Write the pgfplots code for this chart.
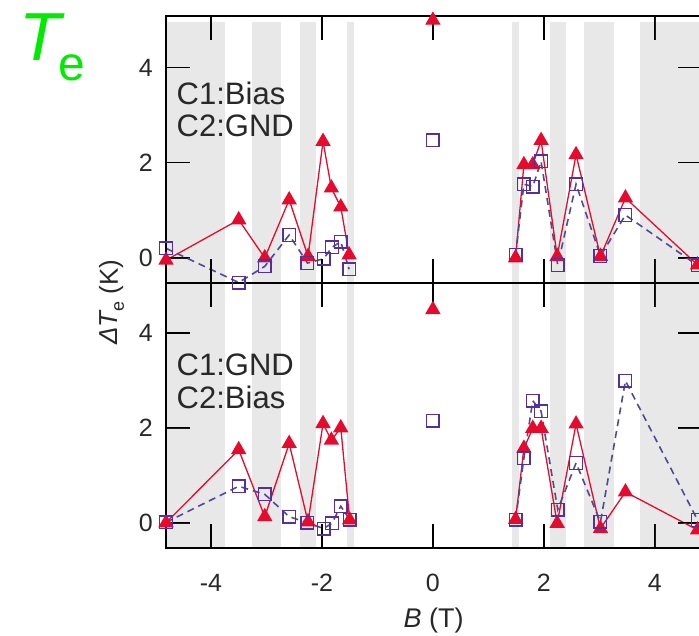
\documentclass[border=0pt]{standalone}
\usepackage{fontspec}
\setmainfont{Liberation Sans}
\usepackage{pgfplots}
\pgfplotsset{compat=1.18}

\definecolor{bandgray}{RGB}{232,232,232}
\definecolor{tri}{RGB}{230,10,45}
\definecolor{sq}{RGB}{82,48,160}
\definecolor{dashc}{RGB}{78,74,150}
\definecolor{txt}{RGB}{40,40,40}
\definecolor{lime}{RGB}{0,235,0}

% shaded field windows, drawn behind the data
\newcommand\bands[1]{%
  \addplot[band] coordinates {(-4.81,-0.53) (-3.74,-0.53) (-3.74,#1) (-4.81,#1)} -- cycle;
  \addplot[band] coordinates {(-3.26,-0.53) (-2.73,-0.53) (-2.73,#1) (-3.26,#1)} -- cycle;
  \addplot[band] coordinates {(-2.39,-0.53) (-2.11,-0.53) (-2.11,#1) (-2.39,#1)} -- cycle;
  \addplot[band] coordinates {(-1.55,-0.53) (-1.42,-0.53) (-1.42,#1) (-1.55,#1)} -- cycle;
  \addplot[band] coordinates {(1.42,-0.53) (1.55,-0.53) (1.55,#1) (1.42,#1)} -- cycle;
  \addplot[band] coordinates {(2.11,-0.53) (2.39,-0.53) (2.39,#1) (2.11,#1)} -- cycle;
  \addplot[band] coordinates {(2.73,-0.53) (3.26,-0.53) (3.26,#1) (2.73,#1)} -- cycle;
  \addplot[band] coordinates {(3.74,-0.53) (4.85,-0.53) (4.85,#1) (3.74,#1)} -- cycle;
}

% one tick as a thin filled strip: x from #1 to #2, y from #3 to #4
\newcommand\tickbox[4]{%
  \addplot[tickfill] coordinates {(#1,#3) (#2,#3) (#2,#4) (#1,#4)} -- cycle;
}
% long inward ticks on all four sides of a panel
% #1 = upper y limit, #2 = y value where the top ticks end
\newcommand\panelticks[2]{%
  \tickbox{-4.0126}{-3.9874}{-0.53}{-0.025}\tickbox{-4.0126}{-3.9874}{#1}{#2}%
  \tickbox{-2.0126}{-1.9874}{-0.53}{-0.025}\tickbox{-2.0126}{-1.9874}{#1}{#2}%
  \tickbox{-0.0126}{0.0126}{-0.53}{-0.025}\tickbox{-0.0126}{0.0126}{#1}{#2}%
  \tickbox{1.9874}{2.0126}{-0.53}{-0.025}\tickbox{1.9874}{2.0126}{#1}{#2}%
  \tickbox{3.9874}{4.0126}{-0.53}{-0.025}\tickbox{3.9874}{4.0126}{#1}{#2}%
  \tickbox{-4.81}{-4.378}{-0.0147}{0.0147}\tickbox{4.418}{4.85}{-0.0147}{0.0147}%
  \tickbox{-4.81}{-4.378}{1.9853}{2.0147}\tickbox{4.418}{4.85}{1.9853}{2.0147}%
  \tickbox{-4.81}{-4.378}{3.9853}{4.0147}\tickbox{4.418}{4.85}{3.9853}{4.0147}%
}

\tikzset{note/.style={anchor=base west, inner sep=0pt, text=txt, font=\fontsize{31}{31}\selectfont}}

\pgfplotsset{
  panel/.style={
    scale only axis, width=536pt,
    xmin=-4.81, xmax=4.85, ymin=-0.53,
    xtick={-4,-2,0,2,4}, ytick={0,2,4},
    xticklabels={-4,-2,0,2,4}, yticklabels={0,2,4},
    xtick pos=both, ytick pos=both,
    tick align=inside, major tick length=24pt,
    major tick style={draw=black, line width=1.3pt},
    axis line style={line width=1.6pt, black},
    clip=false, axis on top,
    yticklabel style={font=\fontsize{25}{25}\selectfont, text=txt, inner sep=0pt, anchor=east, xshift=-13pt},
    xticklabel style={font=\fontsize{25}{25}\selectfont, text=txt, inner sep=0pt, anchor=north, yshift=-26pt},
  },
  band/.style={fill=bandgray, draw=none, forget plot},
  tickfill/.style={fill=black!90, draw=none, forget plot},
  redline/.style={color=tri, line width=1.3pt, mark=triangle*, mark size=7.6pt, mark options={solid}},
  sqline/.style={color=dashc, line width=1.6pt, dash pattern=on 7pt off 5pt,
    mark=square, mark size=6.3pt, mark options={solid, draw=sq, line width=1.4pt}},
}

\begin{document}
\begin{tikzpicture}

% lower panel: C1 grounded, C2 biased
\begin{axis}[panel, name=bot, at={(0,0)}, anchor=south west,
    height=265pt, ymax=5.05]
  \bands{5.05}
  \panelticks{5.05}{4.545}
  \addplot[redline] coordinates {(-4.81,0.0) (-3.5,1.54) (-3.03,0.13) (-2.59,1.67) (-2.25,0.02) (-1.98,2.09) (-1.83,1.74) (-1.66,2.0) (-1.5,0.06)};
  \addplot[redline] coordinates {(1.49,0.07) (1.64,1.57) (1.80,1.99) (1.95,1.99) (2.24,-0.01) (2.58,2.08) (3.02,-0.12) (3.47,0.65) (4.77,-0.15)};
  \addplot[redline, only marks] coordinates {(0,4.49)};
  \addplot[sqline] coordinates {(-4.81,0.01) (-3.5,0.77) (-3.03,0.6) (-2.59,0.13) (-2.26,0.0) (-1.97,-0.12) (-1.82,-0.01) (-1.66,0.35) (-1.5,0.07)};
  \addplot[sqline] coordinates {(1.49,0.07) (1.64,1.36) (1.80,2.57) (1.95,2.35) (2.25,0.28) (2.58,1.26) (3.02,0.02) (3.47,2.99) (4.77,0.06)};
  \addplot[sqline, only marks] coordinates {(0,2.15)};
  \node[note] at (axis cs:-4.62,3.11) {C1:GND};
  \node[note] at (axis cs:-4.62,2.41) {C2:Bias};
\end{axis}

% upper panel: C1 biased, C2 grounded
\begin{axis}[panel, name=top, at={(bot.north west)}, anchor=south west,
    height=267pt, ymax=5.09, xticklabels={}]
  \bands{4.97}
  \panelticks{5.09}{4.585}
  \addplot[redline] coordinates {(-4.81,-0.05) (-3.5,0.8) (-3.03,0.0) (-2.59,1.22) (-2.25,0.03) (-1.98,2.45) (-1.83,1.47) (-1.66,1.07) (-1.51,0.06)};
  \addplot[redline] coordinates {(1.49,0.0) (1.64,1.96) (1.80,1.96) (1.95,2.47) (2.24,0.03) (2.58,2.17) (3.02,0.03) (3.47,1.26) (4.77,-0.15)};
  \addplot[redline, only marks] coordinates {(0,5.0)};
  \addplot[sqline] coordinates {(-4.81,0.2) (-3.5,-0.52) (-3.03,-0.18) (-2.59,0.48) (-2.26,-0.11) (-1.97,-0.02) (-1.82,0.22) (-1.66,0.34) (-1.51,-0.24)};
  \addplot[sqline] coordinates {(1.49,0.06) (1.64,1.55) (1.80,1.50) (1.95,2.03) (2.25,-0.15) (2.58,1.55) (3.02,0.04) (3.47,0.9) (4.77,-0.16)};
  \addplot[sqline, only marks] coordinates {(0,2.47)};
  \node[note] at (axis cs:-4.62,3.22) {C1:Bias};
  \node[note] at (axis cs:-4.62,2.55) {C2:GND};
\end{axis}

% shared axis titles and panel tag
\node[anchor=base, inner sep=0pt, text=txt, font=\fontsize{27}{27}\selectfont]
  at (267.5pt,-79pt) {\itshape B\upshape\ (T)};
\node[anchor=base, rotate=90, inner sep=0pt, text=txt, font=\fontsize{26}{26}\selectfont]
  at (-48pt,246pt) {\itshape ΔT\upshape\raisebox{-6pt}{\fontsize{18}{18}\selectfont e}\ (K)};
\node[anchor=base west, inner sep=0pt, text=lime]
  at (-147pt,487pt) {\fontsize{68}{68}\selectfont\itshape T\kern-2pt\upshape\raisebox{-20pt}{\fontsize{48}{48}\selectfont e}};

\pgfresetboundingbox
\path[use as bounding box] (-166pt,-87pt) rectangle ++(699pt,635pt);
\end{tikzpicture}
\end{document}
